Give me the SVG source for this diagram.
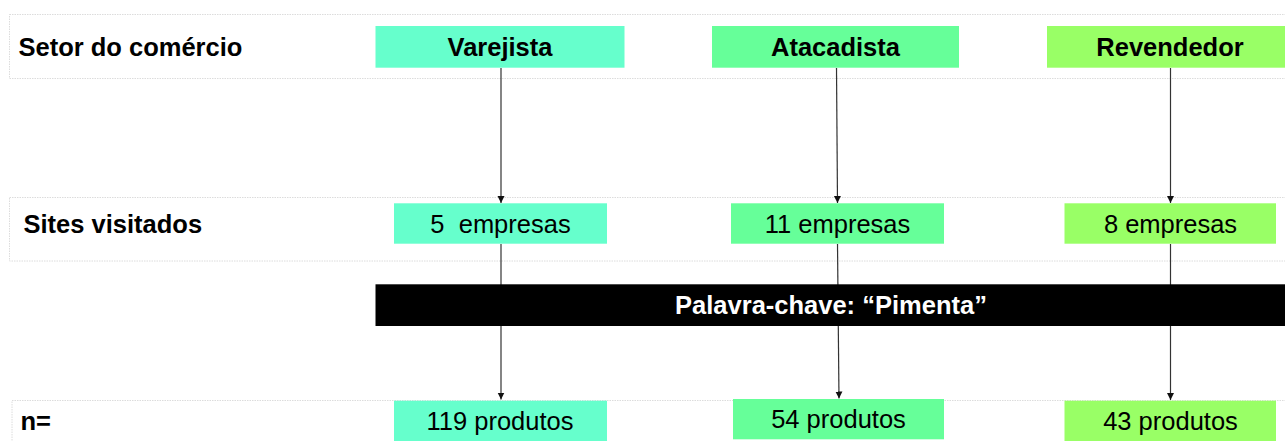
<svg xmlns="http://www.w3.org/2000/svg" width="1285" height="441" viewBox="0 0 1285 441">
<style>
.band{fill:#fff;stroke:#dcdcdc;stroke-width:1;stroke-dasharray:1.5 1}
.lbl{font-family:"Liberation Sans",Arial,sans-serif;font-size:25.5px;font-weight:bold;fill:#000}
.t{font-family:"Liberation Sans",Arial,sans-serif;font-size:25.5px;fill:#000;text-anchor:middle}
.tb{font-family:"Liberation Sans",Arial,sans-serif;font-size:25.5px;font-weight:bold;fill:#000;text-anchor:middle}
.v{fill:#66FFCC}
.a{fill:#66FF99}
.r{fill:#99FF66}
.c{stroke:#333;stroke-width:1.2;fill:none}
</style>
<defs>
<marker id="ah" viewBox="0 0 10 10" refX="10" refY="5" markerWidth="7" markerHeight="8" markerUnits="userSpaceOnUse" orient="auto">
<path d="M0,0 L10,5 L0,10 z" fill="#111"/>
</marker>
</defs>
<rect width="1285" height="441" fill="#fff"/>
<g id="bands">
<rect class="band" x="9.5" y="14.5" width="1290" height="64"/>
<rect class="band" x="9.5" y="197.5" width="1290" height="63.5"/>
<rect class="band" x="12" y="400.5" width="1290" height="60"/>
</g>
<g id="row-labels">
<text class="lbl" x="18.5" y="56">Setor do comércio</text>
<text class="lbl" x="23.5" y="232.5">Sites visitados</text>
<text class="lbl" x="20.5" y="429.5">n=</text>
</g>
<g id="connectors">
<line class="c" x1="501" y1="68" x2="501" y2="203" marker-end="url(#ah)"/>
<line class="c" x1="501" y1="244" x2="501" y2="399.5" marker-end="url(#ah)"/>
<line class="c" x1="836.5" y1="68" x2="837.5" y2="203" marker-end="url(#ah)"/>
<line class="c" x1="837.5" y1="244" x2="839" y2="398.5" marker-end="url(#ah)"/>
<line class="c" x1="1170.5" y1="68" x2="1170.5" y2="203" marker-end="url(#ah)"/>
<line class="c" x1="1170.5" y1="244" x2="1170.5" y2="400" marker-end="url(#ah)"/>
</g>
<g id="varejista">
<rect class="v" x="375.5" y="26" width="249" height="41.7"/>
<text class="tb" x="500" y="56">Varejista</text>
</g>
<g id="atacadista">
<rect class="a" x="712" y="26" width="247" height="41.7"/>
<text class="tb" x="835.5" y="56">Atacadista</text>
</g>
<g id="revendedor">
<rect class="r" x="1047" y="26" width="246" height="41.7"/>
<text class="tb" x="1170" y="56">Revendedor</text>
</g>
<g id="varejista-sites">
<rect class="v" x="394" y="203.3" width="213" height="40.4"/>
<text class="t" x="500.5" y="232.5" xml:space="preserve">5  empresas</text>
</g>
<g id="atacadista-sites">
<rect class="a" x="731" y="203.3" width="213" height="40.4"/>
<text class="t" x="837.5" y="232.5">11 empresas</text>
</g>
<g id="revendedor-sites">
<rect class="r" x="1064.5" y="203.3" width="211.5" height="40.4"/>
<text class="t" x="1170.5" y="232.5">8 empresas</text>
</g>
<g id="palavra-chave">
<rect x="375.5" y="284.3" width="912" height="41.7" fill="#000"/>
<text class="tb" x="831" y="313.5" fill="#fff" style="fill:#fff">Palavra-chave: “Pimenta”</text>
</g>
<g id="varejista-n">
<rect class="v" x="394" y="400.7" width="213" height="41"/>
<text class="t" x="500" y="429.5">119 produtos</text>
</g>
<g id="atacadista-n">
<rect class="a" x="733" y="399" width="211" height="40.3"/>
<text class="t" x="838.5" y="427.5">54 produtos</text>
</g>
<g id="revendedor-n">
<rect class="r" x="1064.5" y="400.7" width="211.5" height="41"/>
<text class="t" x="1170.5" y="429.5">43 produtos</text>
</g>
</svg>
